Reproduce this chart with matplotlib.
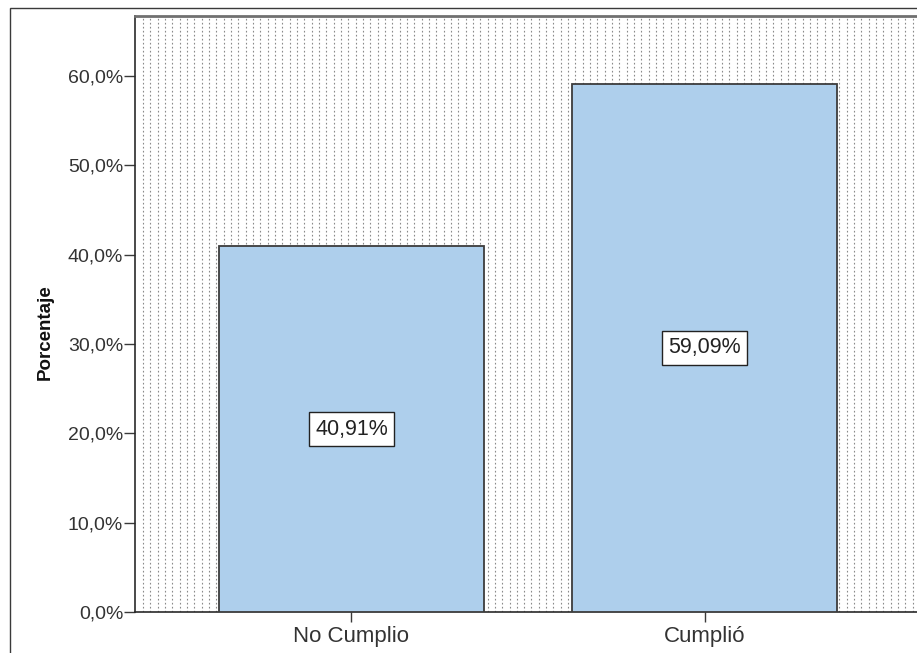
import matplotlib.pyplot as plt
import numpy as np
from matplotlib.patches import Rectangle
from matplotlib.transforms import blended_transform_factory

plt.rcParams['font.family'] = ['Liberation Sans', 'DejaVu Sans']

# 資料
categorias = ['No Cumplio', 'Cumplió']
porcentajes = [40.91, 59.09]
yticks = [0, 10, 20, 30, 40, 50, 60]

W, H = 917, 653
fig = plt.figure(figsize=(W / 100, H / 100), dpi=100)

# 外框 (右下延伸出畫面)
fig.patches.append(Rectangle((10 / W, -0.2), 1.2, 1 - 8 / H + 0.2,
                             transform=fig.transFigure, fill=False,
                             edgecolor='#3a3a3a', linewidth=1.0))

ax = fig.add_axes([135 / W, 41 / H, 786 / W, 596 / H])
x = np.arange(len(categorias))

# 背景的垂直點線
trans = blended_transform_factory(ax.transAxes, ax.transAxes)
paso = 7.33 / 786
for xl in np.arange(8 / 786, 1, paso):
    ax.plot([xl, xl], [0, 1], transform=trans, color='#8a8a8a',
            linewidth=0.8, linestyle=(0, (1.5, 2.1)), zorder=0)

barras = ax.bar(x, porcentajes, width=0.75, color='#aecfec',
                edgecolor='#3c3c3c', linewidth=1.3, zorder=3)

for xi, v in zip(x, porcentajes):
    ax.text(xi, v / 2, f'{v:.2f}%'.replace('.', ','), ha='center', va='center',
            fontsize=15.5, color='#222222', zorder=5,
            bbox=dict(boxstyle='square,pad=0.3', facecolor='white',
                      edgecolor='#222222', linewidth=1.0))

ax.set_xlim(-0.613, 1.613)
ax.set_ylim(0, 66.7)
ax.set_yticks(yticks)
ax.set_yticklabels([f'{t:.1f}%'.replace('.', ',') for t in yticks])
ax.set_xticks(x)
ax.set_xticklabels(categorias)
ax.tick_params(axis='both', length=8, width=1, color='#3a3a3a',
               labelcolor='#333333')
ax.tick_params(axis='y', labelsize=14, pad=0.5)
ax.tick_params(axis='x', labelsize=16, length=7, pad=3)

ax.set_ylabel('Porcentaje', fontsize=13.5, fontweight='bold', color='#111111')
ax.yaxis.set_label_coords(-0.104, 0.47)

for lado in ['left', 'bottom']:
    ax.spines[lado].set_color('#2a2a2a')
    ax.spines[lado].set_linewidth(1.2)
ax.spines['top'].set_color('#707070')
ax.spines['top'].set_linewidth(2.0)
ax.spines['right'].set_color('#707070')

fig.savefig('out.png', dpi=100)
